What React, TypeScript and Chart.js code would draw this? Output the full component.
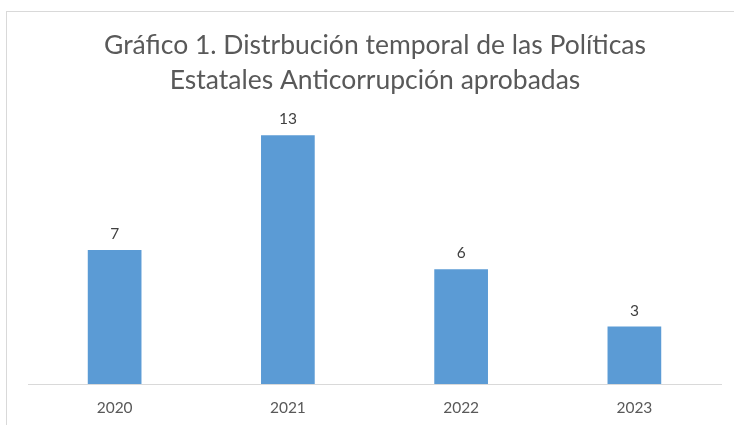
import React, { useEffect, useRef } from "react";
import { Chart, registerables } from "chart.js";

Chart.register(...registerables);

const titleLines = [
  "Gráfico 1. Distrbución temporal de las Políticas",
  "Estatales Anticorrupción aprobadas",
];
const years = ["2020", "2021", "2022", "2023"];
const approved = [7, 13, 6, 3];

const FONT = "Lato, 'Open Sans', sans-serif";

const overlayPlugin = {
  id: "overlay",
  afterDraw(chart: any) {
    const ctx = chart.ctx;
    ctx.save();
    // title
    ctx.fillStyle = "#595959";
    ctx.font = `26.5px ${FONT}`;
    ctx.textAlign = "center";
    ctx.textBaseline = "middle";
    const cx = 375;
    ctx.fillText(titleLines[0], cx, 45);
    ctx.fillText(titleLines[1], cx, 80);
    // data labels
    const meta = chart.getDatasetMeta(0);
    ctx.fillStyle = "#404040";
    ctx.font = `15.5px ${FONT}`;
    meta.data.forEach((bar: any, i: number) => {
      ctx.fillText(String(approved[i]), bar.x, bar.y - 16);
    });
    ctx.restore();
  },
};

export default function App() {
  const ref = useRef<HTMLCanvasElement>(null);
  useEffect(() => {
    const chart = new Chart(ref.current!, {
      type: "bar",
      data: {
        labels: years,
        datasets: [
          {
            data: approved,
            backgroundColor: "#5B9BD5",
            borderWidth: 0,
            barPercentage: 0.62,
            categoryPercentage: 0.5,
          },
        ],
      },
      options: {
        animation: false,
        responsive: false,
        maintainAspectRatio: false,
        layout: { padding: { left: 28, right: 13, top: 116, bottom: 0 } },
        plugins: {
          legend: { display: false },
          title: { display: false },
          tooltip: { enabled: false },
        },
        scales: {
          x: {
            grid: { display: false, drawTicks: false },
            border: { display: true, color: "#d9d9d9", width: 1 },
            ticks: {
              color: "#595959",
              font: { family: FONT, size: 15.5 },
              padding: 15,
            },
            afterFit(scale: any) {
              scale.height = 41;
            },
          },
          y: {
            display: false,
            min: 0,
            max: 14,
          },
        },
      },
      plugins: [overlayPlugin],
    });
    return () => chart.destroy();
  }, []);
  return (
    <div style={{ position: "fixed", left: 0, top: 0, width: 734, height: 425, background: "#fff", overflow: "hidden" }}>
      <div
        style={{
          position: "absolute",
          left: 6,
          top: 11,
          width: 800,
          height: 500,
          border: "1px solid #d9d9d9",
        }}
      />
      <canvas ref={ref} width={734} height={425} style={{ position: "absolute", left: 0, top: 0 }} />
    </div>
  );
}
